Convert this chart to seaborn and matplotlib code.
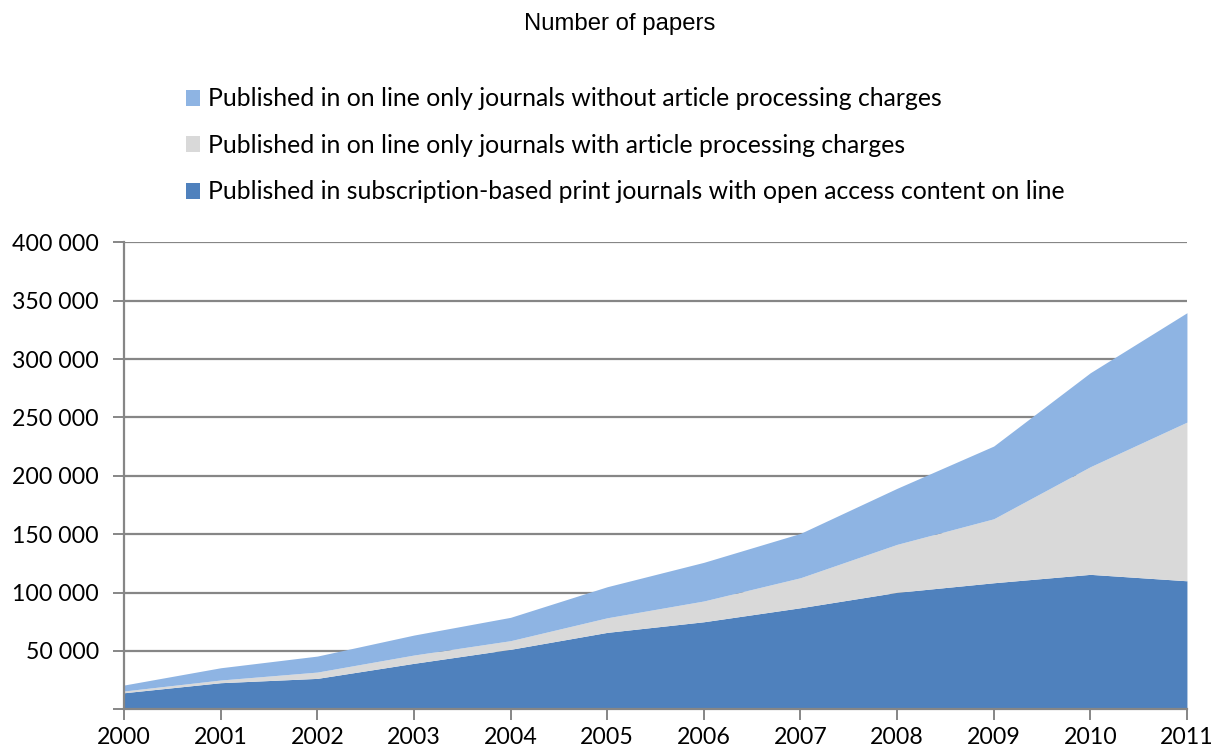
import pandas as pd
import seaborn as sns
import matplotlib.pyplot as plt
from matplotlib.patches import Patch
from matplotlib.ticker import FuncFormatter

## Data
years = list(range(2000, 2012))
subscription = [14200, 22800, 26500, 39400, 51400, 65900, 75000, 87000, 100200, 108400, 115600, 110100]
with_apc = [1500, 2300, 5400, 7100, 7400, 12500, 17800, 25700, 41100, 54800, 92200, 135900]
without_apc = [5100, 10500, 13700, 17100, 20000, 26600, 33100, 38000, 48000, 62300, 80500, 93700]

labels = ["Published in subscription-based print journals with open access content on line",
          "Published in on line only journals with article processing charges",
          "Published in on line only journals without article processing charges"]
colors = ["#4F81BD", "#D9D9D9", "#8EB4E3"]

df = pd.DataFrame({"year": years,
                   labels[0]: subscription,
                   labels[1]: with_apc,
                   labels[2]: without_apc})

sns.set_theme(style="white")
plt.rcParams['font.family'] = ['Lato', 'DejaVu Sans']
plt.rcParams['text.color'] = 'black'

fig = plt.figure(figsize=(12.17, 7.53), dpi=100)
ax = fig.add_axes([0.1019, 0.0580, 0.8734, 0.6202])

ax.stackplot(df["year"], df[labels[0]], df[labels[1]], df[labels[2]],
             colors=colors, linewidth=0, zorder=3)

## axes styling
grid_c = "#868686"
ax.set_xlim(2000, 2011)
ax.set_ylim(0, 400000)
ax.set_xticks(years)
ax.set_yticks(range(0, 400001, 50000))
ax.yaxis.set_major_formatter(FuncFormatter(lambda v, p: "" if v == 0 else f"{int(v):,}".replace(",", " ")))
ax.grid(axis="y", color=grid_c, linewidth=1.6, zorder=1)
ax.set_axisbelow(True)
sns.despine(ax=ax, top=True, right=True)
for s in ["left", "bottom"]:
    ax.spines[s].set_color(grid_c)
    ax.spines[s].set_linewidth(1.6)
    ax.spines[s].set_zorder(4)
ax.tick_params(axis="both", direction="out", length=8, width=1.4, color=grid_c,
               labelsize=16.7, labelcolor="black",
               bottom=True, left=True)
ax.tick_params(axis="x", pad=5)
ax.tick_params(axis="y", pad=10)
ax.set_xlabel("")
ax.set_ylabel("")

## title
fig.text(0.509, 0.968, "Number of papers", ha="center", va="center",
         fontsize=17.2, color="black", family=["Liberation Sans", "DejaVu Sans"])

## legend (reverse order, top to bottom)
handles = [Patch(facecolor=colors[i], edgecolor="none", label=labels[i]) for i in [2, 1, 0]]
leg = fig.legend(handles=handles, loc="upper left", bbox_to_anchor=(0.1444, 0.897),
                 frameon=False, fontsize=17.8, handlelength=0.6, handleheight=0.6,
                 handletextpad=0.3, labelspacing=0.95, borderaxespad=0)
for t in leg.get_texts():
    t.set_color("black")

fig.savefig("out.png", dpi=100)
